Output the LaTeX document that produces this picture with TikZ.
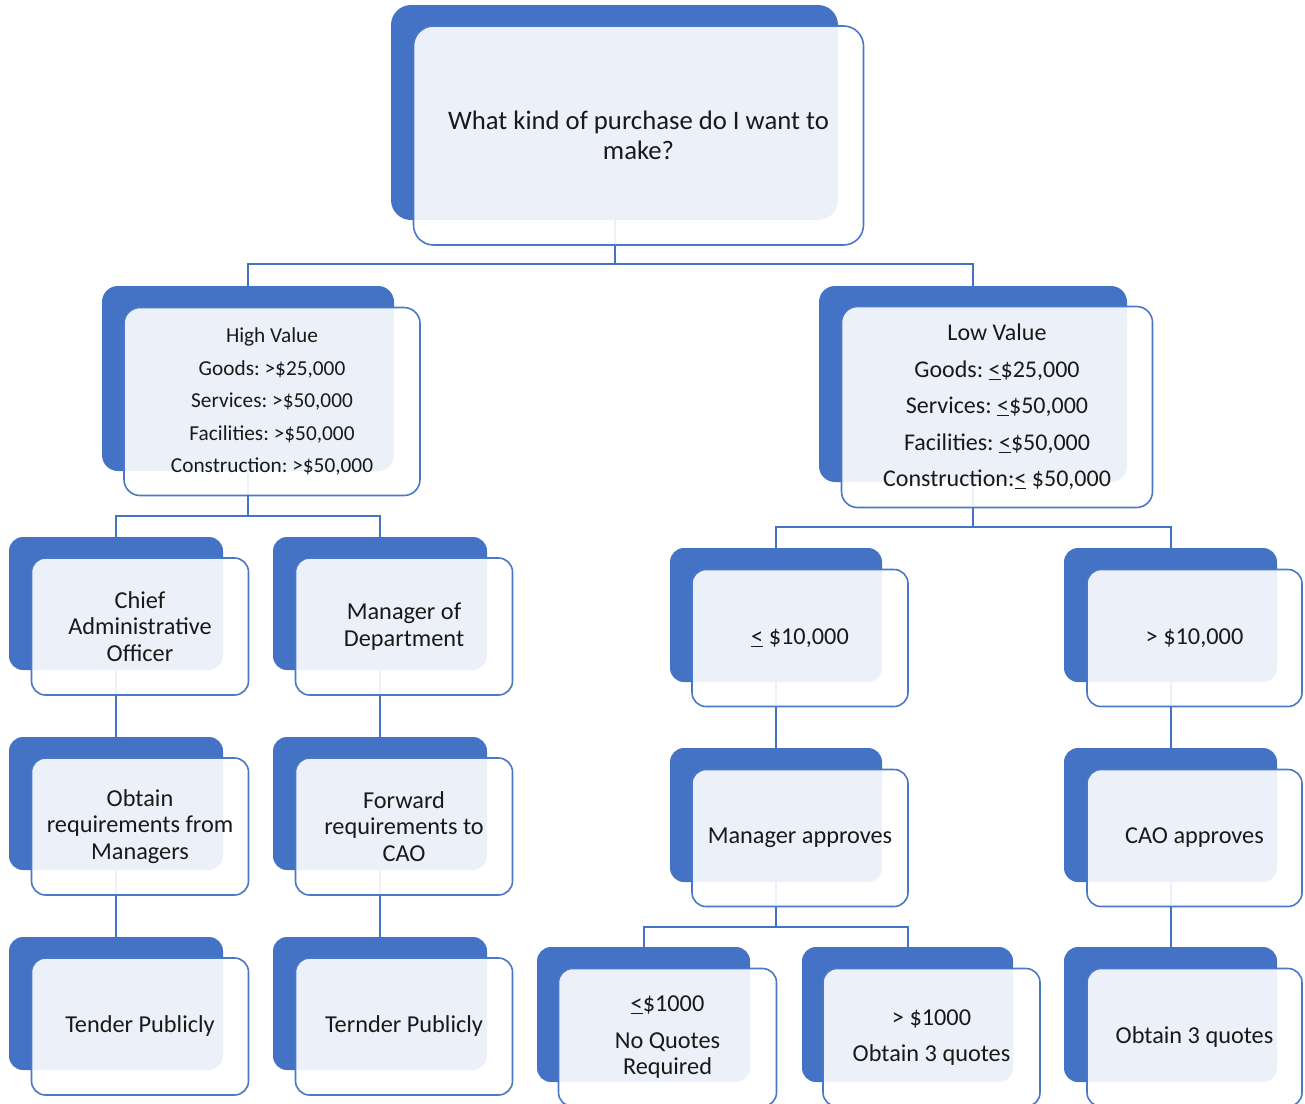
\documentclass[tikz,border=0pt]{standalone}
\usepackage{fontspec}
\setmainfont{Carlito}
\frenchspacing
\usetikzlibrary{calc}
\definecolor{obl}{HTML}{4472C4}
\definecolor{frline}{HTML}{4A78C8}
\newcommand\bkbox[6]{\node[bkst, rounded corners=#6pt, minimum width=#4pt, minimum height=#5pt] (#1b) at (#2,#3) {};}
\newcommand\frbox[6]{\node[frst, rounded corners=#4pt, minimum width=#2pt, minimum height=#3pt, font=#5] (#1) at ($(#1b)+(24,23)$) {#6};}
\begin{document}
\begin{tikzpicture}[x=1pt,y=-1pt,
  bkst/.style={fill=obl, draw=none, inner sep=0pt},
  frst/.style={fill=white, fill opacity=0.9, text opacity=1, draw=frline, draw opacity=1, line width=1.6pt, inner sep=0pt, align=center, text=black!90},
  conn/.style={draw=obl, line width=2pt}]
\useasboundingbox (0,0) rectangle (1305,1103);
\clip (0,0) rectangle (1305,1103);
% back boxes
\bkbox{top}{614.5}{112.5}{447}{215}{20}
\bkbox{hv}{248}{378.5}{292}{185}{16}
\bkbox{lv}{973}{384}{308}{196}{16}
\bkbox{chief}{116}{603.5}{214}{133}{14}
\bkbox{mgr}{380}{603.5}{214}{133}{14}
\bkbox{obt}{116}{803.5}{214}{133}{14}
\bkbox{fwd}{380}{803.5}{214}{133}{14}
\bkbox{tend}{116}{1003.5}{214}{133}{14}
\bkbox{ternd}{380}{1003.5}{214}{133}{14}
\bkbox{lek}{776}{615}{212}{134}{14}
\bkbox{gtk}{1170.5}{615}{213}{134}{14}
\bkbox{mapp}{776}{815}{212}{134}{14}
\bkbox{capp}{1170.5}{815}{213}{134}{14}
\bkbox{leth}{643.5}{1014.5}{213}{135}{14}
\bkbox{gtth}{907.5}{1014.5}{211}{135}{14}
\bkbox{othq}{1170.5}{1014.5}{213}{135}{14}
% connectors
\draw[conn] (topb.south) -- ++(0,44) coordinate (j1);
\draw[conn] (j1) -| (hvb.north);
\draw[conn] (j1) -| (lvb.north);
\draw[conn] (hvb.south) -- ++(0,45) coordinate (j2);
\draw[conn] (j2) -| (chiefb.north);
\draw[conn] (j2) -| (mgrb.north);
\draw[conn] (lvb.south) -- ++(0,45) coordinate (j3);
\draw[conn] (j3) -| (lekb.north);
\draw[conn] (j3) -| (gtkb.north);
\draw[conn] (chiefb.south) -- (obtb.north);
\draw[conn] (obtb.south) -- (tendb.north);
\draw[conn] (mgrb.south) -- (fwdb.north);
\draw[conn] (fwdb.south) -- (terndb.north);
\draw[conn] (lekb.south) -- (mappb.north);
\draw[conn] (gtkb.south) -- (cappb.north);
\draw[conn] (cappb.south) -- (othqb.north);
\draw[conn] (mappb.south) -- ++(0,45) coordinate (j4);
\draw[conn] (j4) -| (lethb.north);
\draw[conn] (j4) -| (gtthb.north);
% front boxes
\frbox{top}{450}{219}{20}{\fontsize{26.7}{30}\selectfont}{What kind of purchase do I want to\\make?}
\frbox{hv}{296}{188}{16}{\fontsize{21.3}{32.5}\selectfont}{High Value\\Goods: >\$25,000\\Services: >\$50,000\\Facilities: >\$50,000\\Construction: >\$50,000}
\frbox{lv}{311}{201}{16}{\fontsize{24}{36.5}\selectfont}{Low Value\\Goods: \underline{<}\$25,000\\Services: \underline{<}\$50,000\\Facilities: \underline{<}\$50,000\\Construction:\underline{<} \$50,000}
\frbox{chief}{217}{137}{14}{\fontsize{24.3}{26.5}\selectfont}{Chief\\Administrative\\Officer}
\frbox{mgr}{217}{137}{14}{\fontsize{24.3}{26.5}\selectfont}{Manager of\\Department}
\frbox{obt}{217}{137}{14}{\fontsize{24.3}{26.5}\selectfont}{Obtain\\requirements from\\Managers}
\frbox{fwd}{217}{137}{14}{\fontsize{24.3}{26.5}\selectfont}{Forward\\requirements to\\CAO}
\frbox{tend}{217}{137}{14}{\fontsize{24.3}{26.5}\selectfont}{Tender Publicly}
\frbox{ternd}{217}{137}{14}{\fontsize{24.3}{26.5}\selectfont}{Ternder Publicly}
\frbox{lek}{216}{137}{14}{\fontsize{24.3}{26.5}\selectfont}{\underline{<} \$10,000}
\frbox{gtk}{215}{137}{14}{\fontsize{24.3}{26.5}\selectfont}{> \$10,000}
\frbox{mapp}{216}{137}{14}{\fontsize{24.3}{26.5}\selectfont}{Manager approves}
\frbox{capp}{215}{137}{14}{\fontsize{24.3}{26.5}\selectfont}{CAO approves}
\frbox{leth}{218}{138}{14}{\fontsize{24.3}{26.5}\selectfont}{\underline{<}\$1000\\[10pt]No Quotes\\Required}
\frbox{gtth}{217}{138}{14}{\fontsize{24.3}{36.5}\selectfont}{> \$1000\\Obtain 3 quotes}
\frbox{othq}{215}{138}{14}{\fontsize{24.3}{26.5}\selectfont}{Obtain 3 quotes}
\end{tikzpicture}
\end{document}
